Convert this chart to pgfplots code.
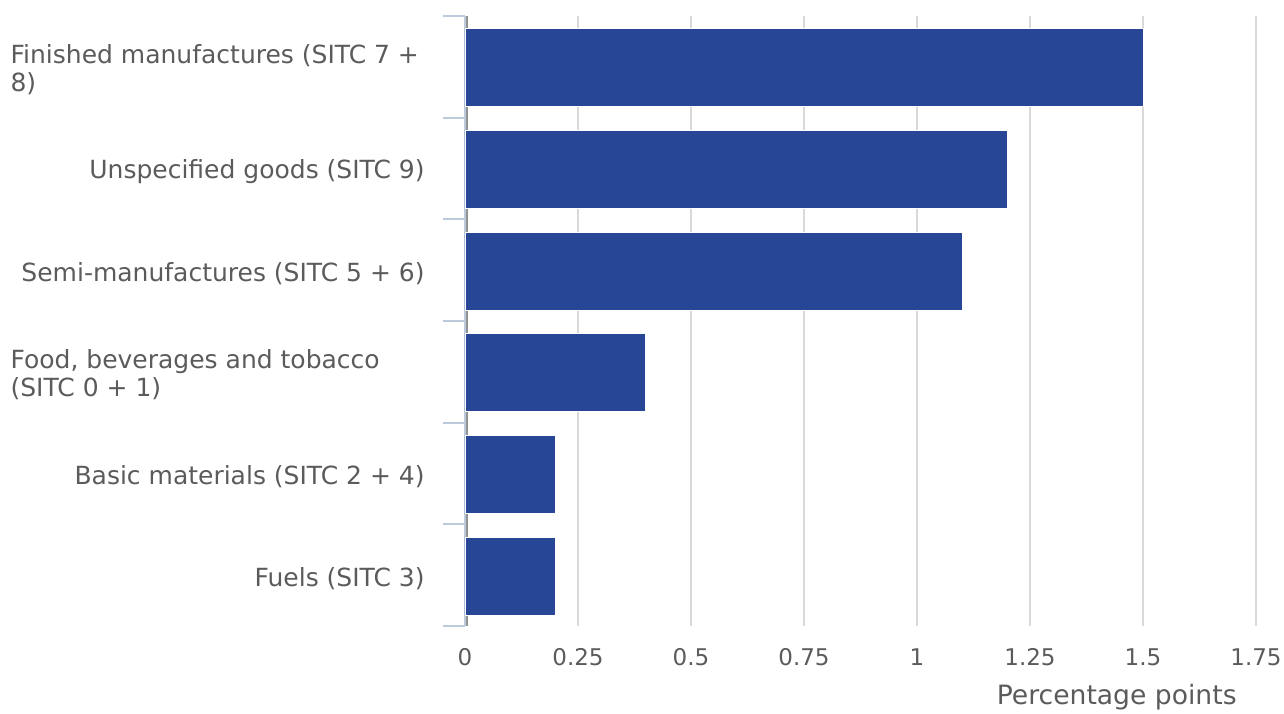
\documentclass[border=0pt]{standalone}
\usepackage{fontspec}
\setmainfont{DejaVu Sans}
\usepackage{pgfplots}
\pgfplotsset{compat=1.18}
\definecolor{barc}{HTML}{274796}
\definecolor{txtc}{HTML}{5B5B5B}
\definecolor{gridc}{HTML}{D9D9D9}
\definecolor{axisc}{HTML}{BCCBDC}
\begin{document}
\begin{tikzpicture}
% fix the page to the reference size (1px = 0.5pt), axis box at the origin
\path[use as bounding box] (-232.5pt,-43.5pt) rectangle (409.5pt,313pt);
\begin{axis}[
    scale only axis,
    width=395.5pt, height=305pt,
    xbar, bar width=39pt,
    xmin=0, xmax=1.75,
    ymin=-0.5, ymax=5.5,
    y dir=reverse,
    axis x line*=bottom, axis y line*=left,
    x axis line style={draw=none},
    y axis line style={color=axisc, line width=1pt, -},
    xtick={0,0.25,0.5,0.75,1,1.25,1.5,1.75},
    xticklabels={0,0.25,0.5,0.75,1,1.25,1.5,1.75},
    xticklabel style={font=\fontsize{11.5}{13}\selectfont, text=txtc, anchor=center, yshift=-4.5pt},
    x tick style={draw=none},
    xmajorgrids,
    grid style={color=gridc, line width=1pt},
    extra x ticks={0},
    extra x tick labels={},
    extra x tick style={grid style={color=gray!85, line width=1pt, xshift=0.9pt}},
    % boundary ticks between categories
    ytick={-0.5,0.5,1.5,2.5,3.5,4.5,5.5},
    yticklabels={},
    major tick length=11pt, tick align=outside,
    y tick style={draw=axisc, line width=1pt},
    % category names at the band centres
    extra y ticks={0,1,2,3,4,5},
    extra y tick labels={
        {\parbox{207pt}{\raggedright Finished manufactures (SITC 7 +\\8)}},
        Unspecified goods (SITC 9),
        Semi-manufactures (SITC 5 + 6),
        {\parbox{207pt}{\raggedright Food, beverages and tobacco\\(SITC 0 + 1)}},
        Basic materials (SITC 2 + 4),
        Fuels (SITC 3)},
    extra y tick style={major tick length=0pt, tick style={draw=none}},
    yticklabel style={font=\fontsize{12.5}{14}\selectfont, text=txtc, anchor=east, inner sep=0pt,
        xshift=-20pt, yshift=-1.5pt},
    xlabel={Percentage points},
    xlabel style={font=\fontsize{13.3}{15}\selectfont, text=txtc, inner sep=0pt,
        at={(axis description cs:0.976,0)}, anchor=base east, yshift=-39pt},
]
\addplot[fill=barc, draw=white, line width=0.4pt, bar shift=-0.5pt]
table{
    x   y
    1.5 0
    1.2 1
    1.1 2
    0.4 3
    0.2 4
    0.2 5
};
\end{axis}
\end{tikzpicture}
\end{document}
